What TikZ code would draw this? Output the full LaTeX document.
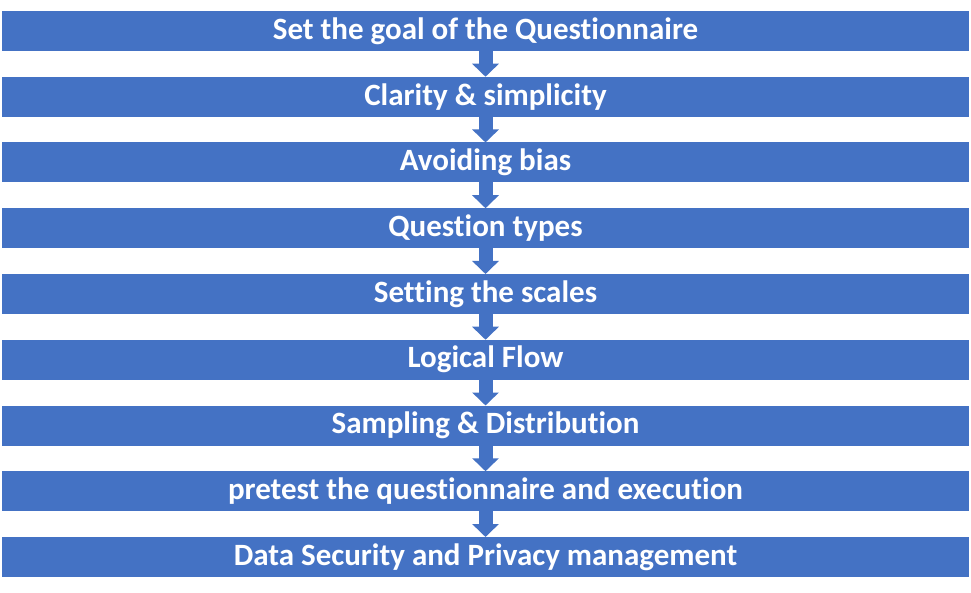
\documentclass[tikz,border=0pt]{standalone}
\usepackage{xcolor}
\usepackage{tikz}
\usepackage{fontspec}
\setmainfont[Ligatures=NoCommon]{Carlito}
\usetikzlibrary{arrows.meta,positioning}
\definecolor{barblue}{RGB}{68,114,196}

\begin{document}
\begin{tikzpicture}[
    x=1pt, y=1pt,
    node distance=25.75pt,
    bar/.style={rectangle, fill=barblue, text=white, font=\fontsize{31}{34}\selectfont\bfseries, minimum width=967pt, minimum height=40pt, inner sep=0pt, outer sep=0pt},
    arrow/.style={-{Triangle[width=26pt,length=13pt]}, draw=barblue, line width=14pt}
]
    \useasboundingbox (0,0) rectangle (971,-593);
    \node[bar] (goal) at (485.5,-31) {Set the goal of the Questionnaire};
    \node[bar, below=of goal] (clarity) {Clarity \& simplicity};
    \node[bar, below=of clarity] (bias) {Avoiding bias};
    \node[bar, below=of bias] (types) {Question types};
    \node[bar, below=of types] (scales) {Setting the scales};
    \node[bar, below=of scales] (flow) {Logical Flow};
    \node[bar, below=of flow] (sampling) {Sampling \& Distribution};
    \node[bar, below=of sampling] (pretest) {pretest the questionnaire and execution};
    \node[bar, below=of pretest] (privacy) {Data Security and Privacy management};

    \draw[arrow] (goal) -- (clarity);
    \draw[arrow] (clarity) -- (bias);
    \draw[arrow] (bias) -- (types);
    \draw[arrow] (types) -- (scales);
    \draw[arrow] (scales) -- (flow);
    \draw[arrow] (flow) -- (sampling);
    \draw[arrow] (sampling) -- (pretest);
    \draw[arrow] (pretest) -- (privacy);
\end{tikzpicture}
\end{document}
